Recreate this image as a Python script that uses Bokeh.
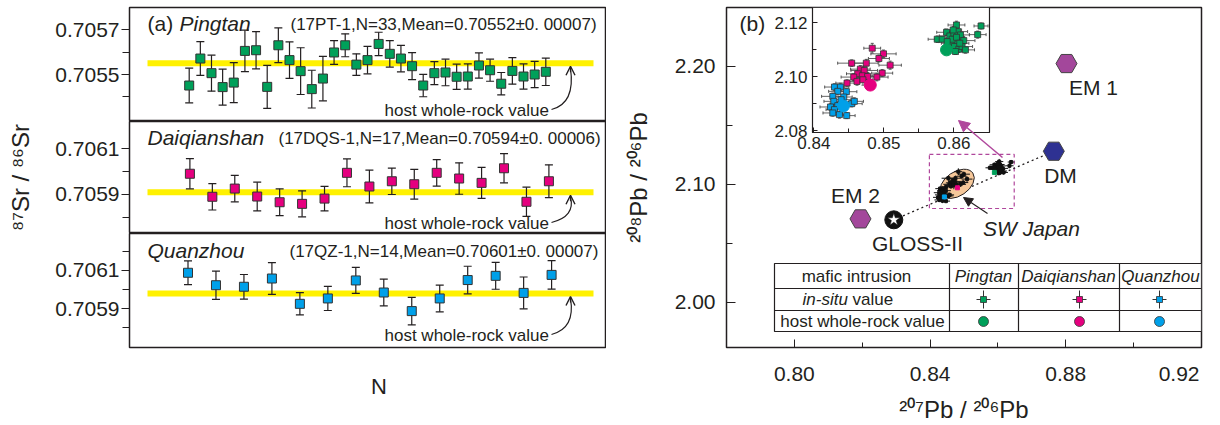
import math
from bokeh.plotting import figure
from bokeh.layouts import row, column
from bokeh.models import (Range1d, FixedTicker, PrintfTickFormatter, Label, Arrow, OpenHead,
                          NormalHead, LinearAxis)
from bokeh.embed import file_html
from bokeh.resources import INLINE

FONT = "Liberation Sans"
INK = "#231f20"
GREEN = "#00a05a"
PINK = "#e5007f"
BLUE = "#00a0e9"
YELLOW = "#fff100"
EMCOL = "#a3479b"
DMCOL = "#2e3192"
LINKCOL = "#b0479c"

# ---------------- panel (a): in-situ 87Sr/86Sr ----------------
pt_sr = [0.705451, 0.705571, 0.705506, 0.705444, 0.705464, 0.705605, 0.705608, 0.705445,
         0.705630, 0.705564, 0.705515, 0.705435, 0.705482, 0.705598, 0.705630, 0.705544,
         0.705564, 0.705636, 0.705592, 0.705571, 0.705537, 0.705451, 0.705506, 0.705509,
         0.705490, 0.705491, 0.705540, 0.705519, 0.705459, 0.705516, 0.705491, 0.705500,
         0.705512]
pt_err = [0.000077, 0.000075, 0.000080, 0.000080, 0.000089, 0.000092, 0.000083, 0.000096,
          0.000077, 0.000081, 0.000104, 0.000084, 0.000099, 0.000053, 0.000051, 0.000048,
          0.000061, 0.000052, 0.000059, 0.000059, 0.000060, 0.000050, 0.000051, 0.000059,
          0.000056, 0.000056, 0.000056, 0.000049, 0.000050, 0.000059, 0.000056, 0.000058,
          0.000061]
pt_host = 0.70555

dq_sr = [0.705991, 0.705890, 0.705926, 0.705891, 0.705866, 0.705859, 0.705882, 0.705995,
         0.705935, 0.705958, 0.705945, 0.705995, 0.705970, 0.705951, 0.706015, 0.705868,
         0.705958]
dq_err = [0.000066, 0.000058, 0.000058, 0.000063, 0.000059, 0.000057, 0.000054, 0.000061,
          0.000072, 0.000058, 0.000065, 0.000058, 0.000069, 0.000068, 0.000064, 0.000064,
          0.000072]
dq_host = 0.70591

qz_sr = [0.706088, 0.706023, 0.706015, 0.706058, 0.705926, 0.705954, 0.706048, 0.705985,
         0.705888, 0.705954, 0.706050, 0.706072, 0.705983, 0.706077]
qz_err = [0.000062, 0.000074, 0.000064, 0.000083, 0.000058, 0.000063, 0.000068, 0.000070,
          0.000072, 0.000070, 0.000072, 0.000070, 0.000083, 0.000074]
qz_host = 0.70598

pt_ticks, pt_minor = [0.7055, 0.7057], [0.7054, 0.7056]
dq_ticks, dq_minor = [0.7059, 0.7061], [0.7058, 0.7060]
qz_ticks, qz_minor = [0.7059, 0.7061], [0.7058, 0.7060, 0.7062]

pt_info = "(17PT-1,N=33,Mean=0.70552\u00b10. 00007)"
dq_info = "(17DQS-1,N=17,Mean=0.70594\u00b10. 00006)"
qz_info = "(17QZ-1,N=14,Mean=0.70601\u00b10. 00007)"

# ---------------- panel (b): Pb isotopes ----------------
pt_pb_x = [0.85896, 0.86038, 0.86389, 0.86341, 0.85763, 0.85834, 0.85943, 0.86000, 0.86057,
           0.86095, 0.86142, 0.86047, 0.85962, 0.86009, 0.86071, 0.86118, 0.86024, 0.86166,
           0.85976, 0.85905, 0.86038, 0.86085, 0.85991]
pt_pb_y = [2.11644, 2.11914, 2.11877, 2.11558, 2.11387, 2.11387, 2.11509, 2.11607, 2.11669,
           2.11546, 2.11337, 2.11301, 2.11239, 2.11117, 2.11018, 2.11117, 2.10933, 2.10994,
           2.11387, 2.11301, 2.11460, 2.11239, 2.11730]
pt_pb_xe = [0.0014, 0.0012, 0.0010, 0.0012, 0.0013, 0.0011, 0.0015, 0.0012, 0.0014, 0.0013,
            0.0016, 0.0012, 0.0014, 0.0013, 0.0011, 0.0015, 0.0012, 0.0013, 0.0014, 0.0012,
            0.0011, 0.0013, 0.0012]
pt_pb_ye = [0.0012, 0.0014, 0.0011, 0.0013, 0.0012, 0.0010, 0.0013, 0.0015, 0.0012, 0.0011,
            0.0014, 0.0012, 0.0013, 0.0011, 0.0012, 0.0014, 0.0011, 0.0012, 0.0013, 0.0014,
            0.0012, 0.0011, 0.0013]

dq_pb_x = [0.84834, 0.84995, 0.84929, 0.85090, 0.84540, 0.84749, 0.84664, 0.84720, 0.84626,
           0.84692, 0.84569, 0.84768, 0.84474, 0.84616, 0.84701, 0.84976, 0.84900]
dq_pb_y = [2.11055, 2.10847, 2.10675, 2.10429, 2.10503, 2.10503, 2.10282, 2.10233, 2.10110,
           2.10037, 2.09988, 2.10012, 2.09767, 2.09828, 2.09890, 2.10135, 2.09988]
dq_pb_xe = [0.0012, 0.0018, 0.0015, 0.0016, 0.0020, 0.0017, 0.0014, 0.0019, 0.0016, 0.0015,
            0.0018, 0.0013, 0.0016, 0.0017, 0.0014, 0.0015, 0.0016]
dq_pb_ye = [0.0018, 0.0014, 0.0013, 0.0015, 0.0012, 0.0014, 0.0013, 0.0016, 0.0012, 0.0014,
            0.0013, 0.0015, 0.0012, 0.0014, 0.0020, 0.0013, 0.0014]

qz_pb_x = [0.84294, 0.84379, 0.84464, 0.84341, 0.84270, 0.84427, 0.84284, 0.84341, 0.84237,
           0.84294, 0.84270, 0.84365, 0.84469, 0.84540, 0.84578, 0.84389]
qz_pb_y = [2.09620, 2.09620, 2.09448, 2.09460, 2.09276, 2.09252, 2.09092, 2.08933, 2.08883,
           2.08785, 2.08663, 2.08601, 2.08564, 2.09006, 2.09092, 2.09153]
qz_pb_xe = [0.0014, 0.0012, 0.0015, 0.0013, 0.0016, 0.0012, 0.0014, 0.0013, 0.0015, 0.0012,
            0.0014, 0.0013, 0.0012, 0.0015, 0.0013, 0.0014]
qz_pb_ye = [0.0012, 0.0014, 0.0011, 0.0013, 0.0012, 0.0011, 0.0013, 0.0012, 0.0014, 0.0011,
            0.0012, 0.0013, 0.0011, 0.0012, 0.0013, 0.0012]

host_pb_x = [0.85896, 0.84806, 0.84422]
host_pb_y = [2.10994, 2.09693, 2.08920]
host_cols = [GREEN, PINK, BLUE]

em1 = (0.88021, 2.20220)
dm = (0.87647, 2.12790)
em2 = (0.81949, 2.07060)
gloss = (0.82931, 2.06980)
swjapan = (0.84799, 2.10030)

b_ticks, b_minor = [0.80, 0.84, 0.88, 0.92], [0.82, 0.86, 0.90]
b_yticks, b_yminor = [2.00, 2.10, 2.20], [2.05, 2.15]
i_ticks, i_minor = [0.84, 0.85, 0.86], [0.845, 0.855]
i_yticks, i_yminor = [2.08, 2.10, 2.12], [2.09, 2.11]


def style_axis(ax, ticks, minor, fmt, size, t_in, t_out, m_in, m_out, standoff):
    ax.ticker = FixedTicker(ticks=ticks, minor_ticks=minor)
    ax.formatter = PrintfTickFormatter(format=fmt)
    ax.major_label_text_font = FONT
    ax.major_label_text_font_size = f"{size}px"
    ax.major_label_text_color = INK
    ax.major_tick_in = t_in
    ax.major_tick_out = t_out
    ax.minor_tick_in = m_in
    ax.minor_tick_out = m_out
    ax.major_tick_line_color = INK
    ax.minor_tick_line_color = INK
    ax.axis_line_color = INK
    ax.major_label_standoff = standoff


def label(p, x, y, text, size, align="left", italic=False, color=INK, **kw):
    p.add_layout(Label(x=x, y=y, text=text, text_font=FONT, text_font_size=f"{size}px",
                       text_align=align, text_baseline="middle", text_color=color,
                       text_font_style="italic" if italic else "normal", **kw))


# ---------------- panel (a) builder ----------------
A_L, A_R = 129, 606


def sr_panel(vals, errs, host, color, yr, ticks, minor, first_px, last_px, top, bottom,
             pad_top, pad_bottom, name, name_px, info, info_px, title_y, host_y, xaxis=False):
    n = len(vals)
    step = (last_px - first_px) / (n - 1)
    x0 = 1 - (first_px - A_L) / step
    x1 = n + (A_R - last_px) / step
    p = figure(width=A_R, height=pad_top + (bottom - top) + pad_bottom,
               x_range=Range1d(x0, x1), y_range=Range1d(*yr),
               x_axis_location="below" if xaxis else None,
               title=None, toolbar_location=None, output_backend="svg",
               min_border_left=A_L, min_border_right=0, min_border_top=pad_top,
               min_border_bottom=pad_bottom)
    p.grid.visible = False
    p.outline_line_color = INK
    p.outline_line_width = 1.5
    p.background_fill_color = "white"
    p.border_fill_color = "white"
    style_axis(p.yaxis[0], ticks, minor, "%.4f", 21, 0, 8, 0, 7, 2)

    def fx(px):
        return x0 + (px - A_L) / (A_R - A_L) * (x1 - x0)

    def fy(py):
        return yr[1] - (py - top) / (bottom - top) * (yr[1] - yr[0])

    def py_of(v):
        return top + (yr[1] - v) / (yr[1] - yr[0]) * (bottom - top)

    xs = list(range(1, n + 1))
    lo = [v - e for v, e in zip(vals, errs)]
    hi = [v + e for v, e in zip(vals, errs)]
    p.segment(x0=fx(147), y0=host, x1=fx(593), y1=host, line_color=YELLOW, line_width=6)
    p.segment(x0=xs, y0=lo, x1=xs, y1=hi, line_color=INK, line_width=1.2)
    p.scatter(xs, lo, marker="dash", size=8, line_color=INK, line_width=1.2)
    p.scatter(xs, hi, marker="dash", size=8, line_color=INK, line_width=1.2)
    p.scatter(xs, vals, marker="square", size=9, fill_color=color, line_color="#333333",
              line_width=1)

    label(p, fx(name_px), fy(title_y), name, 21, italic=True)
    label(p, fx(info_px), fy(title_y + 1), info, 17)
    label(p, fx(384), fy(host_y), "host whole-rock value", 17)
    tip = py_of(host) + 3
    p.quadratic(x0=fx(551), y0=fy(host_y - 1), x1=fx(570), y1=fy(tip + 2),
                cx=fx(575), cy=fy(host_y - 7), line_color=INK, line_width=1.2)
    p.add_layout(Arrow(end=OpenHead(size=9, line_width=1.4, line_color=INK),
                       x_start=fx(570), y_start=fy(tip + 6), x_end=fx(570), y_end=fy(tip),
                       line_color=INK, line_width=1.2))
    return p, fx, fy


a1, fx1, fy1 = sr_panel(pt_sr, pt_err, pt_host, GREEN, (0.705291, 0.705798), pt_ticks, pt_minor,
                        188.7, 545.3, 7, 121, 7, 0, "Pingtan", 179, pt_info, 290, 23, 110)
label(a1, fx1(147), fy1(23), "(a)", 21)
a2, fx2, fy2 = sr_panel(dq_sr, dq_err, dq_host, PINK, (0.705729, 0.706220), dq_ticks, dq_minor,
                        189.4, 548.4, 121, 233, 0, 0, "Daiqianshan", 147, dq_info, 278, 137, 223)
a3, fx3, fy3 = sr_panel(qz_sr, qz_err, qz_host, BLUE, (0.705698, 0.706293), qz_ticks, qz_minor,
                        187.5, 551.1, 233, 347, 0, 78, "Quanzhou", 147, qz_info, 289, 250, 335,
                        xaxis=True)

a2.yaxis[0].axis_label = "\u2078\u2077Sr / \u2078\u2076Sr"
a2.yaxis[0].axis_label_text_font = FONT
a2.yaxis[0].axis_label_text_font_size = "24px"
a2.yaxis[0].axis_label_text_font_style = "normal"
a2.yaxis[0].axis_label_text_color = INK
a2.yaxis[0].axis_label_standoff = 18

xa = a3.xaxis[0]
xa.ticker = FixedTicker(ticks=[], minor_ticks=[])
xa.axis_line_color = None
xa.major_tick_line_color = None
xa.minor_tick_line_color = None
xa.axis_label = "\u2002\u2002N"
xa.axis_label_text_font = FONT
xa.axis_label_text_font_size = "22px"
xa.axis_label_text_font_style = "normal"
xa.axis_label_text_color = INK
xa.axis_label_standoff = 26

# ---------------- panel (b) ----------------
B_L, B_R, B_T, B_B = 726, 1201, 7, 347
bx = (0.78, 0.92)
by = (1.9616, 2.2497)
pb = figure(width=614, height=425, x_range=Range1d(*bx), y_range=Range1d(*by), title=None,
            toolbar_location=None, output_backend="svg", min_border_left=120,
            min_border_right=19, min_border_top=7, min_border_bottom=78)
pb.grid.visible = False
pb.outline_line_color = INK
pb.outline_line_width = 1.5
style_axis(pb.xaxis[0], b_ticks, b_minor, "%.2f", 21, 8, 0, 5, 0, 14)
style_axis(pb.yaxis[0], b_yticks, b_yminor, "%.2f", 21, 9, 0, 6, 0, 11)
pb.xaxis[0].major_label_overrides = {0.92: "0.92\u2002\u2002"}
for ax, txt, so in ((pb.xaxis[0], "\u00b2\u2070\u2077Pb / \u00b2\u2070\u2076Pb", 8),
                    (pb.yaxis[0], "\u00b2\u2070\u2078Pb / \u00b2\u2070\u2076Pb", 20)):
    ax.axis_label = txt
    ax.axis_label_text_font = FONT
    ax.axis_label_text_font_size = "24px"
    ax.axis_label_text_font_style = "normal"
    ax.axis_label_text_color = INK
    ax.axis_label_standoff = so


def fxb(px):
    return bx[0] + (px - B_L) / (B_R - B_L) * (bx[1] - bx[0])


def fyb(py):
    return by[1] - (py - B_T) / (B_B - B_T) * (by[1] - by[0])


# inset ranges and the pixel box they occupy inside panel (b)
ix = (0.8398, 0.8651)
iy = (2.0794, 2.1256)
I_L, I_R, I_T, I_B = 812, 989, 7, 132
ixw = ix[1] - ix[0]
iyh = iy[1] - iy[0]
pb.extra_x_ranges = {"ix": Range1d(ix[0] - (I_L - B_L) / (I_R - I_L) * ixw,
                                   ix[1] + (B_R - I_R) / (I_R - I_L) * ixw)}
pb.extra_y_ranges = {"iy": Range1d(iy[0] - (B_B - I_B) / (I_B - I_T) * iyh,
                                   iy[1] + (I_T - B_T) / (I_B - I_T) * iyh)}

# zoom box, link arrow and mixing line
pb.quad(left=ix[0], right=ix[1] - 0.0003, bottom=iy[0], top=iy[1] - 0.0004, fill_alpha=0,
        line_color=LINKCOL, line_dash="4 3", line_width=1.2)
pb.line([gloss[0], dm[0]], [gloss[1], dm[1]], line_color=INK, line_dash="2 3", line_width=1.3)
pb.ellipse(x=[swjapan[0]], y=[swjapan[1]], width=38, height=24, angle=0.6,
           width_units="screen", height_units="screen", fill_color="#f6c89a",
           line_color=INK, line_width=1)

for xs, ys, xe, ye, col in ((pt_pb_x, pt_pb_y, pt_pb_xe, pt_pb_ye, GREEN),
                            (dq_pb_x, dq_pb_y, dq_pb_xe, dq_pb_ye, PINK),
                            (qz_pb_x, qz_pb_y, qz_pb_xe, qz_pb_ye, BLUE)):
    pb.segment(x0=[a - b for a, b in zip(xs, xe)], y0=ys, x1=[a + b for a, b in zip(xs, xe)],
               y1=ys, line_color="#111111", line_width=1)
    pb.segment(x0=xs, y0=[a - 1.6 * b for a, b in zip(ys, ye)], x1=xs,
               y1=[a + 1.6 * b for a, b in zip(ys, ye)], line_color="#111111", line_width=1)
    pb.scatter(xs, ys, marker="square", size=3, fill_color="#111111", line_color="#111111")
pb.scatter(host_pb_x, host_pb_y, marker="square", size=4, fill_color=host_cols,
           line_color=host_cols)

pb.scatter([em1[0], em2[0]], [em1[1], em2[1]], marker="hex", size=21, fill_color=EMCOL,
           line_color="#444444")
pb.scatter([dm[0]], [dm[1]], marker="hex", size=21, fill_color=DMCOL, line_color="#444444")
pb.scatter([gloss[0]], [gloss[1]], marker="circle", size=18, fill_color="#111111",
           line_color="#111111")
pb.scatter([gloss[0]], [gloss[1]], marker="star", size=13, fill_color="white",
           line_color="#111111", line_width=0.5)

label(pb, fxb(739), fyb(23), "(b)", 21)
label(pb, fxb(1093), fyb(87), "EM 1", 21, align="center")
label(pb, fxb(1060), fyb(175), "DM", 21, align="center")
label(pb, fxb(855), fyb(195), "EM 2", 21, align="center")
label(pb, fxb(917), fyb(243), "GLOSS-II", 21, align="center")
label(pb, fxb(1031), fyb(228), "SW Japan", 21, align="center", italic=True)
pb.add_layout(Arrow(end=NormalHead(size=9, fill_color=INK, line_color=INK),
                    x_start=fxb(987), y_start=fyb(213), x_end=fxb(963), y_end=fyb(197),
                    line_color=INK, line_width=1.2))

# legend table
tL, tR = fxb(774), bx[1]
tc = [fxb(949), fxb(1018), fxb(1119)]
tT, tr1, tr2, tB = fyb(263), fyb(288), fyb(310), fyb(331)
pb.quad(left=tL, right=tR, bottom=tB, top=tT, fill_color="white", line_color=INK,
        line_width=1.2)
pb.segment(x0=[tL, tL] + tc, y0=[tr1, tr2] + [tB] * 3, x1=[tR, tR] + tc,
           y1=[tr1, tr2] + [tT] * 3, line_color=INK, line_width=1.2)
label(pb, fxb(856), fyb(276), "mafic intrusion", 17, align="center")
label(pb, fxb(983), fyb(276), "Pingtan", 17, align="center", italic=True)
label(pb, fxb(1068), fyb(276), "Daiqianshan", 17, align="center", italic=True)
label(pb, fxb(1160), fyb(276), "Quanzhou", 17, align="center", italic=True)
label(pb, fxb(802), fyb(299), "in-situ", 17, italic=True)
label(pb, fxb(852), fyb(299), "value", 17)
label(pb, fxb(862), fyb(321), "host whole-rock value", 17, align="center")
sym_px = [983, 1079, 1159]
sx = [fxb(v) for v in sym_px]
pb.segment(x0=[fxb(v - 7) for v in sym_px], y0=[fyb(299)] * 3, x1=[fxb(v + 7) for v in sym_px],
           y1=[fyb(299)] * 3, line_color="#333333", line_width=1)
pb.segment(x0=sx, y0=[fyb(290)] * 3, x1=sx, y1=[fyb(308)] * 3, line_color="#333333",
           line_width=1)
pb.scatter(sx, [fyb(299)] * 3, marker="square", size=6, fill_color=host_cols,
           line_color="#333333", line_width=0.8)
pb.scatter(sx, [fyb(321)] * 3, marker="circle", size=10, fill_color=host_cols,
           line_color="#333333", line_width=0.8)

# ---------------- inset (drawn on its own ranges inside panel b) ----------------
R = dict(x_range_name="ix", y_range_name="iy")
pb.quad(left=ix[0], right=ix[1], bottom=iy[0], top=iy[1], fill_color="white",
        line_color=INK, line_width=1.2, **R)
for xs, ys, xe, ye, col in ((pt_pb_x, pt_pb_y, pt_pb_xe, pt_pb_ye, GREEN),
                            (dq_pb_x, dq_pb_y, dq_pb_xe, dq_pb_ye, PINK),
                            (qz_pb_x, qz_pb_y, qz_pb_xe, qz_pb_ye, BLUE)):
    xl = [a - b for a, b in zip(xs, xe)]
    xh = [a + b for a, b in zip(xs, xe)]
    yl = [a - b for a, b in zip(ys, ye)]
    yh = [a + b for a, b in zip(ys, ye)]
    pb.segment(x0=xl, y0=ys, x1=xh, y1=ys, line_color="#555555", line_width=0.9, **R)
    pb.segment(x0=xs, y0=yl, x1=xs, y1=yh, line_color="#555555", line_width=0.9, **R)
    pb.scatter(xs, yl, marker="dash", size=3, line_color="#555555", **R)
    pb.scatter(xs, yh, marker="dash", size=3, line_color="#555555", **R)
    pb.scatter(xl, ys, marker="dash", size=3, angle=math.pi / 2, line_color="#555555", **R)
    pb.scatter(xh, ys, marker="dash", size=3, angle=math.pi / 2, line_color="#555555", **R)
    pb.scatter(xs, ys, marker="square", size=6, fill_color=col, line_color="#333333",
               line_width=0.8, **R)
pb.scatter(host_pb_x, host_pb_y, marker="circle", size=12, fill_color=host_cols,
           line_color=host_cols, **R)

ixa = LinearAxis(fixed_location=iy[0], bounds=ix, **R)
style_axis(ixa, i_ticks, i_minor, "%.2f", 17, 5, 0, 4, 0, 4)
pb.add_layout(ixa, "below")
iya = LinearAxis(fixed_location=ix[0], bounds=iy, **R)
style_axis(iya, i_yticks, i_yminor, "%.2f", 17, 5, 0, 4, 0, 5)
pb.add_layout(iya, "left")

pb.add_layout(Arrow(end=NormalHead(size=11, fill_color=LINKCOL, line_color=LINKCOL),
                    x_start=fxb(1002), y_start=fyb(157), x_end=fxb(958), y_end=fyb(120),
                    line_color=LINKCOL, line_width=1.5))

layout = row(column(a1, a2, a3), pb)
open("out.html", "w").write(file_html(layout, INLINE))
